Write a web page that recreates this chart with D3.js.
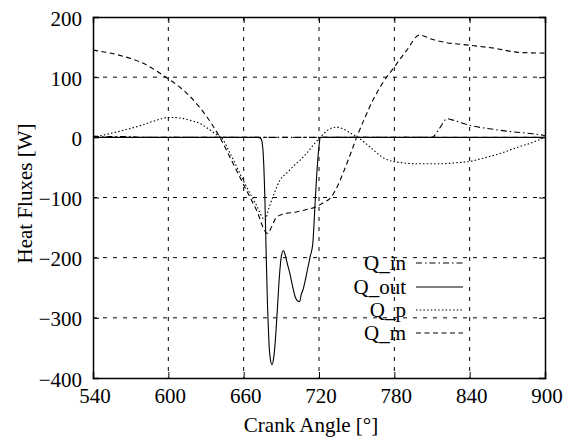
<!DOCTYPE html>
<html>
<head>
<meta charset="utf-8">
<script src="https://cdn.jsdelivr.net/npm/d3@7"></script>
<style>
  html, body { margin: 0; padding: 0; background: #fff; }
</style>
</head>
<body>
<svg id="chart" width="575" height="437"></svg>
<script>
// Heat fluxes over the crank angle (degrees) — each series has its own sampling
const xTicks = [540, 600, 660, 720, 780, 840, 900];
const yTicks = [-400, -300, -200, -100, 0, 100, 200];

const qInAngle = [540, 548, 560, 570, 580, 810, 816, 822, 826, 840, 860, 875, 890, 900];
const qInValue = [2, 1, 1.5, 1, 0, 0, 15, 31, 29, 20, 13, 9, 6, 3];

const qOutAngle = [540, 672, 674, 675.5, 677, 678, 679, 680, 681, 682.6, 684, 685.5, 687, 688.5,
  690, 691.6, 693, 695, 697, 699, 701, 703, 704.5, 706, 707, 709, 711, 713, 715, 716, 717, 718,
  719, 720, 721, 900];
const qOutValue = [0, 0, -3, -25, -110, -200, -280, -335, -365, -378, -365, -330, -280, -230,
  -198, -188, -195, -212, -228, -248, -265, -272, -273, -260, -255, -238, -218, -198, -178, -145,
  -105, -68, -38, -15, 0, 0];

const qPAngle = [540, 555, 565, 580, 590, 600, 610, 618, 625, 632, 638, 642, 650, 660, 670, 677,
  680, 684, 689, 695, 700, 705, 710, 715, 721, 727, 734, 740, 745, 751, 760, 772, 785, 800, 816,
  830, 840, 852, 864, 876, 888, 900];
const qPValue = [0, 7, 12, 21, 28, 33, 32, 28, 23, 14, 5, 0, -30, -73, -112, -137,
  -118, -95, -71, -58, -47, -38, -27, -14, 0, 12, 17, 13, 7, 0, -15, -35, -42, -44, -44,
  -42, -40, -34, -27, -18, -10, 0];

const qMAngle = [540, 560, 580, 600, 610, 620, 630, 641, 650, 660, 670, 679, 682, 686, 691, 702,
  710, 717, 724, 729, 735, 740, 745, 750, 756, 763, 770, 780, 790, 800, 810, 820, 840, 860, 880, 900];
const qMValue = [145, 137, 123, 97, 82, 62, 36, 0, -37, -79, -120, -160, -150, -133, -128, -124,
  -120, -116, -108, -101, -80, -55, -28, 0, 30, 62, 88, 117, 145, 170, 163, 158, 153, 148, 141, 140];

const seriesNames = ["Q_in", "Q_out", "Q_p", "Q_m"];

const svg = d3.select("#chart");
const plotLeft = 93, plotRight = 545, plotTop = 17, plotBottom = 378;
const labelFont = "Liberation Serif";

const x = d3.scaleLinear().domain([540, 900]).range([plotLeft, plotRight]);
const y = d3.scaleLinear().domain([-400, 200]).range([plotBottom, plotTop]);

const fmt = v => v < 0 ? "\u2212" + Math.abs(v) : String(v);

// grid
const grid = svg.append("g").attr("stroke", "#000").attr("stroke-width", 1)
  .attr("stroke-dasharray", "4,6").attr("fill", "none");
xTicks.slice(1, -1).forEach(t => {
  grid.append("line").attr("x1", x(t)).attr("x2", x(t)).attr("y1", plotTop).attr("y2", plotBottom);
});
yTicks.slice(1, -1).forEach(t => {
  grid.append("line").attr("x1", plotLeft).attr("x2", plotRight).attr("y1", y(t)).attr("y2", y(t));
});

// axes with inward ticks on all sides
const axB = d3.axisBottom(x).tickValues(xTicks).tickSize(-6).tickFormat("");
const axT = d3.axisTop(x).tickValues(xTicks).tickSize(-6).tickFormat("");
const axL = d3.axisLeft(y).tickValues(yTicks).tickSize(-6).tickFormat("");
const axR = d3.axisRight(y).tickValues(yTicks).tickSize(-6).tickFormat("");
[[axB, `translate(0,${plotBottom})`], [axT, `translate(0,${plotTop})`],
 [axL, `translate(${plotLeft},0)`], [axR, `translate(${plotRight},0)`]].forEach(([ax, tr]) => {
  const g = svg.append("g").attr("transform", tr).call(ax);
  g.selectAll("path.domain").attr("stroke", "#000").attr("stroke-width", 1.5);
  g.selectAll(".tick line").attr("stroke", "#000").attr("stroke-width", 1);
});

// every label shares the serif face
const label = sel => sel.style("font-family", labelFont).style("font-size", "21px")
  .style("fill", "#000");

// tick labels
svg.append("g").selectAll("text").data(xTicks).join("text")
  .attr("x", d => x(d) + 2).attr("y", 403).attr("text-anchor", "middle")
  .call(label).text(d => d);
svg.append("g").selectAll("text").data(yTicks).join("text")
  .attr("x", 82).attr("y", d => y(d) + 8.5).attr("text-anchor", "end")
  .call(label).text(fmt);

// axis titles
svg.append("text").attr("x", 311).attr("y", 432).attr("text-anchor", "middle")
  .call(label).text("Crank Angle [\u00b0]");
svg.append("text").attr("transform", "translate(32,193.5) rotate(-90)")
  .attr("text-anchor", "middle").call(label).text("Heat Fluxes [W]");

// curves
svg.append("clipPath").attr("id", "plotClip").append("rect")
  .attr("x", plotLeft).attr("y", plotTop)
  .attr("width", plotRight - plotLeft).attr("height", plotBottom - plotTop);

const line = d3.line().x(d => x(d[0])).y(d => y(d[1])).curve(d3.curveMonotoneX);
const zip = (a, b) => a.map((v, i) => [v, b[i]]);

const series = [
  { name: seriesNames[0], data: zip(qInAngle, qInValue), dash: "6,3,1.5,3" },
  { name: seriesNames[1], data: zip(qOutAngle, qOutValue), dash: null },
  { name: seriesNames[2], data: zip(qPAngle, qPValue), dash: "1.5,2.2" },
  { name: seriesNames[3], data: zip(qMAngle, qMValue), dash: "5,3.5" }
];

const plot = svg.append("g").attr("clip-path", "url(#plotClip)");
series.forEach(s => {
  plot.append("path").datum(s.data).attr("d", line).attr("fill", "none")
    .attr("stroke", "#000").attr("stroke-width", 1.1)
    .attr("stroke-dasharray", s.dash);
});

// legend
const legendY = [263, 287, 310, 333];
const legend = svg.append("g");
series.forEach((s, i) => {
  legend.append("text").attr("x", 406).attr("y", legendY[i] + 6.5)
    .attr("text-anchor", "end").call(label).text(s.name);
  legend.append("line").attr("x1", 416).attr("x2", 463)
    .attr("y1", legendY[i]).attr("y2", legendY[i])
    .attr("stroke", "#000").attr("stroke-width", 1.1).attr("stroke-dasharray", s.dash);
});
</script>
</body>
</html>
